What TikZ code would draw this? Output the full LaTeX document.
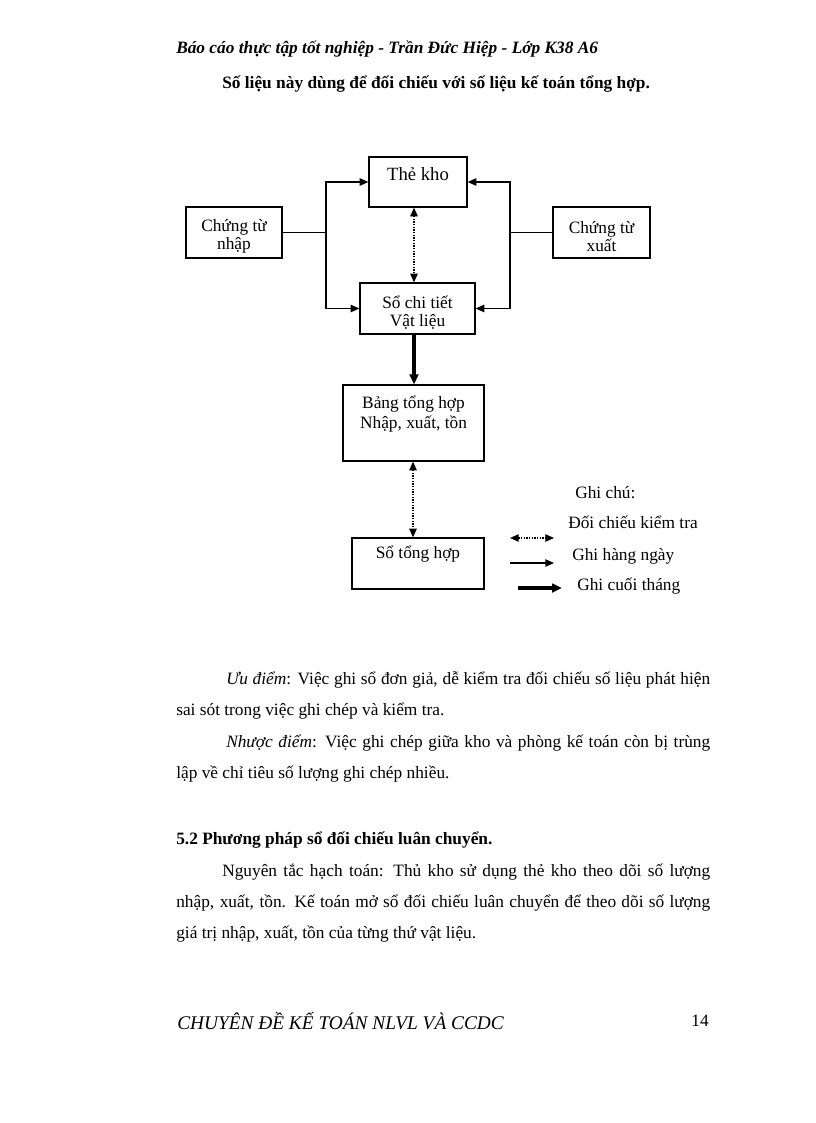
\documentclass[tikz,border=0pt]{standalone}
\usepackage{fontspec}
\setmainfont{Liberation Serif}
\usetikzlibrary{arrows.meta, positioning, calc}

\begin{document}
\begin{tikzpicture}[
    x=0.75pt, y=-0.75pt,
    txt/.style={inner sep=0pt, font=\fontsize{13}{15}\selectfont},
    box/.style={rectangle, draw, line width=0.9pt, inner sep=0pt},
    boxtext/.style={txt, align=center, font=\fontsize{13}{13.8}\selectfont},
    para/.style={inner sep=0pt, anchor=base west, text width=400.5pt,
                 align=justify, font=\fontsize{13}{23.4}\selectfont},
    link/.style={line width=1pt},
    daily/.style={link, -{Triangle[length=6.5pt, width=5.5pt]}},
    check/.style={link, densely dotted,
                  {Triangle[length=6.5pt, width=5.5pt]}-{Triangle[length=6.5pt, width=5.5pt]}},
    monthly/.style={line width=2.5pt, -{Triangle[length=7.5pt, width=6.5pt]}}
]
    \useasboundingbox (0,0) rectangle (816,1123);

    % Header
    \node[txt, anchor=base west, font=\fontsize{13}{15}\selectfont\bfseries\itshape] (header) at (176,54)
        {Báo cáo thực tập tốt nghiệp - Trần Đức Hiệp - Lớp K38 A6};
    \node[txt, anchor=base west, font=\fontsize{13}{15}\selectfont\bfseries] (intro) at (222,89)
        {Số liệu này dùng để đối chiếu với số liệu kế toán tổng hợp.};

    % Boxes
    \node[box, minimum width=73.5pt, minimum height=37.5pt] (thekho) at (418,182) {};
    \node[boxtext, anchor=base, font=\fontsize{14}{16}\selectfont] (thekhotxt) at (418,181) {Thẻ kho};

    \node[box, minimum width=72pt, minimum height=38.25pt] (ctnhap) at (234,232.5) {};
    \node[boxtext] (ctnhaptxt) at (234,236.5) {Chứng từ\\nhập};

    \node[box, minimum width=72.75pt, minimum height=38.25pt] (ctxuat) at (601.5,232.5) {};
    \node[boxtext] (ctxuattxt) at (601.5,236.5) {Chứng từ\\xuất};

    \node[box, minimum width=86.25pt, minimum height=38.25pt] (soct) at (417.5,308.5) {};
    \node[boxtext] (socttxt) at (417.5,312.5) {Sổ chi tiết\\Vật liệu};

    \node[box, minimum width=105.75pt, minimum height=57pt] (bangth) at (413.5,423) {};
    \node[boxtext, font=\fontsize{13}{15}\selectfont] (bangthtxt) at (413.5,414) {Bảng tổng hợp\\Nhập, xuất, tồn};

    \node[box, minimum width=99pt, minimum height=38.25pt] (soth) at (418,563.5) {};
    \node[boxtext, anchor=base] (sothtxt) at (418,558) {Sổ tổng hợp};

    % Junctions
    \coordinate (jl) at (326,232.5);
    \coordinate (jr) at (510,232.5);
    \coordinate (spine) at (414,0);
    \coordinate (spinelow) at (413,0);

    % Lines
    \draw[link] (ctnhap.east) -- (jl);
    \draw[daily] (jl) |- (thekho.west);
    \draw[daily] (jl) |- (soct.west);
    \draw[link] (ctxuat.west) -- (jr);
    \draw[daily] (jr) |- (thekho.east);
    \draw[daily] (jr) |- (soct.east);
    \draw[check] (thekho.south -| spine) -- (soct.north -| spine);
    \draw[monthly] (soct.south -| spine) -- (bangth.north -| spine);
    \draw[check] (bangth.south -| spinelow) -- (soth.north -| spinelow);

    % Legend
    \node[txt, anchor=base west] (notes) at (575,498) {Ghi chú:};
    \node[txt, anchor=base west] (checklbl) at (568,528) {Đối chiếu kiểm tra};
    \node[txt, anchor=base west] (dailylbl) at (572,560) {Ghi hàng ngày};
    \node[txt, anchor=base west] (monthlylbl) at (577,590) {Ghi cuối tháng};
    \coordinate (checkA) at (510,538);
    \coordinate (checkB) at (554,538);
    \coordinate (dailyA) at (510,563);
    \coordinate (dailyB) at (554,563);
    \coordinate (monthlyA) at (518,588);
    \coordinate (monthlyB) at (562,588);
    \draw[check] (checkA) -- (checkB);
    \draw[daily] (dailyA) -- (dailyB);
    \draw[monthly] (monthlyA) -- (monthlyB);

    % Text below
    \node[para] (pros) at (176,684)
        {\hspace*{37.5pt}\textit{Ưu điểm}: Việc ghi sổ đơn giả, dễ kiểm tra đối chiếu số liệu phát hiện\linebreak
         sai sót trong việc ghi chép và kiểm tra.};
    \node[para] (cons) at (176,747)
        {\hspace*{37.5pt}\textit{Nhược điểm}: Việc ghi chép giữa kho và phòng kế toán còn bị trùng\linebreak
         lập về chỉ tiêu số lượng ghi chép nhiều.};
    \node[txt, anchor=base west, font=\fontsize{13}{15}\selectfont\bfseries] (section) at (176,844)
        {5.2 Phương pháp sổ đối chiếu luân chuyển.};
    \node[para] (rule) at (176,876)
        {\hspace*{34.5pt}Nguyên tắc hạch toán: Thủ kho sử dụng thẻ kho theo dõi số lượng\linebreak
         nhập, xuất, tồn. Kế toán mở sổ đối chiếu luân chuyển để theo dõi số lượng\linebreak
         giá trị nhập, xuất, tồn của từng thứ vật liệu.};

    % Footer
    \node[txt, anchor=base west, font=\fontsize{14.5}{16}\selectfont\itshape] (footer) at (177,1029)
        {CHUYÊN ĐỀ KẾ TOÁN NLVL VÀ CCDC};
    \node[txt, anchor=base east] (pagenum) at (709,1026) {14};
\end{tikzpicture}
\end{document}
